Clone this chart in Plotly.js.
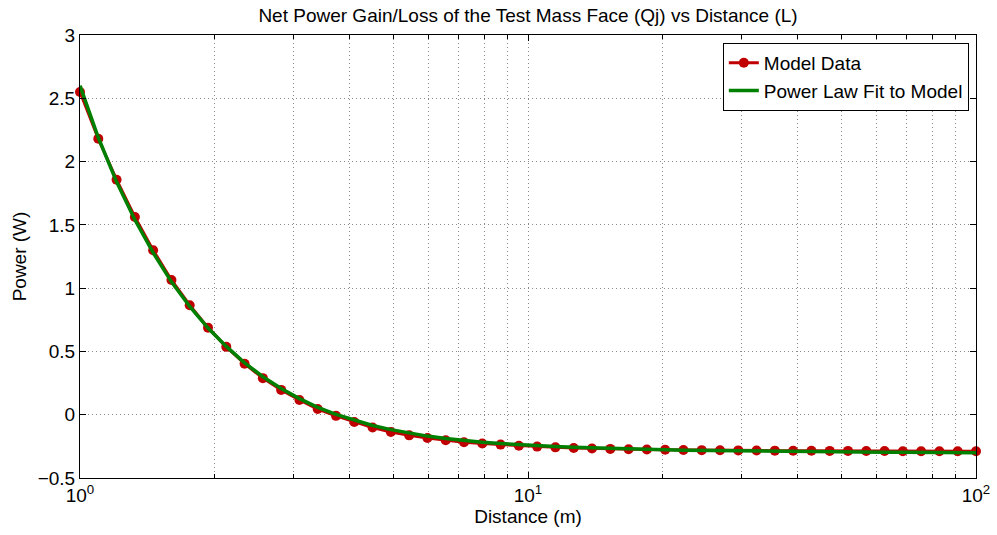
<!DOCTYPE html>
<html>
<head>
<meta charset="utf-8">
<script src="https://cdn.plot.ly/plotly-3.0.1.min.js"></script>
<style>html,body{margin:0;padding:0;background:#fff;}#chart{width:997px;height:535px;}</style>
</head>
<body>
<div id="chart"></div>
<script>
// Distance values (m), log-spaced
var distance = [1, 1.0985, 1.2068, 1.3257, 1.4563, 1.5999, 1.7575, 1.9307, 2.1210, 2.3300,
  2.5595, 2.8118, 3.0888, 3.3932, 3.7276, 4.0949, 4.4984, 4.9417, 5.4287, 5.9636,
  6.5513, 7.1969, 7.9060, 8.6851, 9.5410, 10.4811, 11.5140, 12.6486, 13.8950, 15.2642,
  16.7683, 18.4207, 20.2359, 22.2300, 24.4205, 26.8270, 29.4705, 32.3746, 35.5648, 39.0694,
  42.9193, 47.1487, 51.7947, 56.8987, 62.5055, 68.6649, 75.4312, 82.8643, 91.0298, 100];

var modelPower = [2.55, 2.18, 1.857, 1.562, 1.30, 1.065, 0.865, 0.688, 0.536, 0.403,
  0.289, 0.196, 0.116, 0.045, -0.009, -0.057, -0.101, -0.136, -0.163, -0.184,
  -0.202, -0.218, -0.228, -0.236, -0.245, -0.252, -0.258, -0.263, -0.267, -0.270,
  -0.273, -0.275, -0.277, -0.279, -0.280, -0.281, -0.282, -0.283, -0.284, -0.285,
  -0.285, -0.286, -0.286, -0.287, -0.287, -0.288, -0.288, -0.288, -0.289, -0.289];

var fitPower = [2.60, 2.19, 1.84, 1.54, 1.28, 1.05, 0.855, 0.685, 0.54, 0.41,
  0.30, 0.207, 0.127, 0.058, 0.002, -0.045, -0.085, -0.118, -0.146, -0.169,
  -0.188, -0.204, -0.217, -0.228, -0.238, -0.246, -0.252, -0.258, -0.263, -0.267,
  -0.271, -0.274, -0.277, -0.280, -0.282, -0.284, -0.286, -0.288, -0.289, -0.291,
  -0.292, -0.293, -0.294, -0.295, -0.296, -0.297, -0.297, -0.298, -0.299, -0.300];

var xTickVals = [1, 10, 100];
var xTickText = ['10<sup>0</sup>', '10<sup>1</sup>', '10<sup>2</sup>'];
var xMinorVals = [2, 3, 4, 5, 6, 7, 8, 9, 20, 30, 40, 50, 60, 70, 80, 90];
var yTickVals = [-0.5, 0, 0.5, 1, 1.5, 2, 2.5, 3];
var yTickText = ['\u22120.5', '0', '0.5', '1', '1.5', '2', '2.5', '3'];

var FONT = 'Liberation Sans, Arial, Helvetica, sans-serif';
var FS = 19;

var traces = [
  {
    x: distance, y: modelPower, name: 'Model Data', type: 'scatter', mode: 'lines+markers',
    line: {color: '#C00000', width: 3},
    marker: {color: '#C00000', size: 10, symbol: 'circle'},
    cliponaxis: false
  },
  {
    x: distance, y: fitPower, name: 'Power Law Fit to Model', type: 'scatter', mode: 'lines',
    line: {color: '#008000', width: 3.5},
    cliponaxis: false
  }
];

var layout = {
  width: 997, height: 535,
  margin: {l: 80, r: 21, t: 35, b: 57},
  paper_bgcolor: '#ffffff', plot_bgcolor: '#ffffff',
  font: {family: FONT, size: FS, color: '#000'},
  title: {text: 'Net Power Gain/Loss of the Test Mass Face (Qj) vs Distance (L)',
          font: {family: FONT, size: FS, color: '#000'},
          x: 0.5, xref: 'paper', y: 0.972, yref: 'container', yanchor: 'middle'},
  showlegend: true,
  legend: {x: 0.992, y: 0.982, xanchor: 'right', yanchor: 'top', xref: 'paper', yref: 'paper',
           bgcolor: '#ffffff', bordercolor: '#000', borderwidth: 1,
           font: {family: FONT, size: 19, color: '#000'},
           tracegroupgap: 0, itemwidth: 30},
  xaxis: {
    type: 'log', range: [0, 2],
    tickvals: xTickVals, ticktext: xTickText,
    ticks: 'inside', ticklen: 6, tickcolor: '#000',
    showline: true, linecolor: '#000', linewidth: 1, mirror: 'ticks',
    showgrid: true, gridcolor: '#8a8a8a', griddash: '1px,3px', gridwidth: 1,
    zeroline: false,
    tickfont: {family: FONT, size: FS, color: '#000'},
    minor: {tickvals: xMinorVals, ticks: 'inside', ticklen: 4, tickcolor: '#000',
            showgrid: true, gridcolor: '#8a8a8a', griddash: '1px,3px', gridwidth: 1},
    title: {text: 'Distance (m)', font: {family: FONT, size: FS, color: '#000'}, standoff: 2}
  },
  yaxis: {
    range: [-0.5, 3],
    tickvals: yTickVals, ticktext: yTickText,
    ticks: 'inside', ticklen: 6, tickcolor: '#000',
    showline: true, linecolor: '#000', linewidth: 1, mirror: 'ticks',
    showgrid: true, gridcolor: '#8a8a8a', griddash: '1px,3px', gridwidth: 1,
    zeroline: false,
    tickfont: {family: FONT, size: FS, color: '#000'},
    title: {text: 'Power (W)', font: {family: FONT, size: FS, color: '#000'}, standoff: 6}
  }
};

Plotly.newPlot('chart', traces, layout, {displayModeBar: false, staticPlot: true});
</script>
</body>
</html>
